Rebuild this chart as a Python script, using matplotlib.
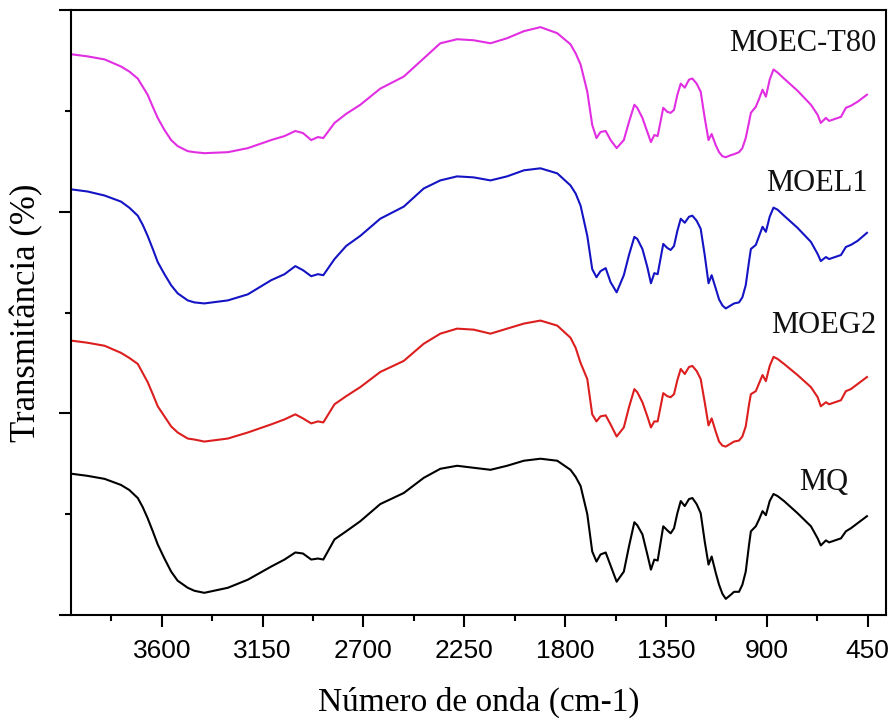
"""FTIR spectra of the MQ sample and its three formulations, stacked with vertical offsets."""

import matplotlib

matplotlib.use("Agg")
import matplotlib.pyplot as plt
from matplotlib.ticker import MultipleLocator, NullFormatter

SERIF = "Liberation Serif"
SANS = "Liberation Sans"

# Wavenumber grid (cm-1), shared by all four spectra
wavenumber = [
    4000, 3931, 3855, 3782, 3745, 3707, 3685, 3663, 3640, 3618,
    3588, 3558, 3529, 3484, 3454, 3410, 3305, 3216, 3112, 3052,
    3004, 2970, 2933, 2903, 2879, 2829, 2777, 2714, 2625, 2520,
    2431, 2357, 2282, 2208, 2133, 2059, 1984, 1910, 1835, 1776,
    1753, 1731, 1701, 1679, 1660, 1642, 1619, 1597, 1570, 1538,
    1515, 1491, 1478, 1455, 1433, 1417, 1402, 1387, 1362, 1344,
    1329, 1314, 1299, 1284, 1266, 1247, 1232, 1213, 1195, 1177,
    1160, 1146, 1128, 1113, 1098, 1083, 1061, 1046, 1024, 1009,
    994, 979, 971, 949, 934, 919, 904, 887, 870, 852,
    823, 763, 703, 673, 659, 636, 622, 569, 547, 525,
    495, 453,
]

# Transmittance (offset, arbitrary units)
moec_t80 = [
    5.56, 5.54, 5.51, 5.44, 5.39, 5.32, 5.24, 5.16, 5.04, 4.93,
    4.81, 4.71, 4.65, 4.60, 4.59, 4.58, 4.59, 4.63, 4.71, 4.75,
    4.80, 4.78, 4.71, 4.74, 4.73, 4.88, 4.97, 5.06, 5.22, 5.34,
    5.52, 5.67, 5.71, 5.70, 5.67, 5.72, 5.79, 5.83, 5.77, 5.66,
    5.57, 5.46, 5.19, 4.86, 4.73, 4.79, 4.80, 4.71, 4.63, 4.71,
    4.89, 5.06, 5.03, 4.93, 4.79, 4.69, 4.76, 4.75, 5.03, 4.99,
    4.98, 5.01, 5.16, 5.27, 5.23, 5.31, 5.32, 5.27, 5.19, 4.93,
    4.71, 4.77, 4.66, 4.59, 4.55, 4.54, 4.56, 4.57, 4.59, 4.63,
    4.73, 4.89, 4.98, 5.04, 5.12, 5.21, 5.14, 5.31, 5.41, 5.38,
    5.32, 5.20, 5.06, 4.96, 4.88, 4.93, 4.90, 4.94, 5.03, 5.05,
    5.09, 5.16,
]
moel1 = [
    4.22, 4.20, 4.16, 4.10, 4.04, 3.96, 3.87, 3.76, 3.63, 3.50,
    3.38, 3.27, 3.19, 3.12, 3.10, 3.09, 3.12, 3.18, 3.32, 3.38,
    3.46, 3.42, 3.36, 3.38, 3.37, 3.53, 3.66, 3.76, 3.93, 4.05,
    4.23, 4.31, 4.35, 4.34, 4.31, 4.35, 4.41, 4.43, 4.38, 4.26,
    4.18, 4.06, 3.76, 3.43, 3.35, 3.41, 3.44, 3.30, 3.20, 3.37,
    3.57, 3.75, 3.73, 3.63, 3.45, 3.29, 3.39, 3.38, 3.68, 3.64,
    3.62, 3.66, 3.81, 3.93, 3.89, 3.95, 3.96, 3.91, 3.83, 3.57,
    3.29, 3.37, 3.24, 3.13, 3.07, 3.04, 3.07, 3.09, 3.10, 3.15,
    3.27, 3.51, 3.63, 3.67, 3.76, 3.85, 3.80, 3.95, 4.04, 4.02,
    3.96, 3.84, 3.70, 3.58, 3.51, 3.55, 3.53, 3.57, 3.65, 3.67,
    3.71, 3.79,
]
moeg2 = [
    2.72, 2.70, 2.67, 2.60, 2.55, 2.49, 2.40, 2.31, 2.19, 2.07,
    1.97, 1.87, 1.81, 1.75, 1.74, 1.72, 1.75, 1.81, 1.89, 1.94,
    1.99, 1.95, 1.90, 1.92, 1.91, 2.09, 2.17, 2.26, 2.41, 2.52,
    2.69, 2.79, 2.84, 2.83, 2.79, 2.84, 2.89, 2.92, 2.87, 2.75,
    2.65, 2.50, 2.34, 1.99, 1.92, 1.97, 1.98, 1.89, 1.77, 1.86,
    2.06, 2.24, 2.21, 2.11, 1.97, 1.86, 1.92, 1.92, 2.20, 2.17,
    2.16, 2.19, 2.33, 2.44, 2.39, 2.46, 2.47, 2.42, 2.34, 2.11,
    1.88, 1.95, 1.82, 1.72, 1.68, 1.67, 1.70, 1.72, 1.73, 1.77,
    1.87, 2.09, 2.19, 2.22, 2.30, 2.38, 2.32, 2.47, 2.56, 2.54,
    2.49, 2.38, 2.26, 2.16, 2.07, 2.11, 2.09, 2.13, 2.22, 2.24,
    2.29, 2.36,
]
mq = [
    1.40, 1.38, 1.35, 1.29, 1.24, 1.16, 1.07, 0.96, 0.83, 0.70,
    0.56, 0.43, 0.34, 0.27, 0.24, 0.22, 0.27, 0.35, 0.48, 0.55,
    0.62, 0.61, 0.55, 0.56, 0.55, 0.75, 0.83, 0.93, 1.10, 1.21,
    1.36, 1.45, 1.48, 1.46, 1.44, 1.48, 1.53, 1.55, 1.53, 1.44,
    1.37, 1.28, 1.00, 0.63, 0.53, 0.60, 0.62, 0.49, 0.33, 0.43,
    0.68, 0.92, 0.89, 0.80, 0.60, 0.45, 0.55, 0.54, 0.88, 0.84,
    0.81, 0.86, 1.01, 1.13, 1.08, 1.15, 1.16, 1.10, 1.01, 0.73,
    0.50, 0.58, 0.42, 0.30, 0.21, 0.16, 0.20, 0.23, 0.23, 0.30,
    0.43, 0.70, 0.83, 0.88, 0.95, 1.03, 0.99, 1.13, 1.20, 1.18,
    1.13, 1.01, 0.88, 0.76, 0.69, 0.74, 0.72, 0.76, 0.83, 0.86,
    0.91, 0.98,
]

series_names = ["MOEC-T80", "MOEL1", "MOEG2", "MQ"]
series_values = [moec_t80, moel1, moeg2, mq]
series_colors = ["#e22ee2", "#1414c4", "#dc1e1e", "#000000"]
# label anchor (wavenumber of right edge, transmittance of centre)
label_pos = [(413, 5.67), (449, 4.28), (413, 2.87), (538, 1.31)]


def build_spectra() -> None:
    fig = plt.figure(figsize=(8.92, 7.22), dpi=100)
    ax = fig.add_axes([71 / 892, 1 - 615 / 722, 815 / 892, 605 / 722])

    for name, values, color in zip(series_names, series_values, series_colors):
        ax.plot(wavenumber, values, color=color, linewidth=1.5, label=name,
                solid_joinstyle="round")

    for name, (x, y) in zip(series_names, label_pos):
        ax.text(x, y, name, ha="right", va="center", fontsize=22, family=SERIF, color="#111111")

    ax.set_xlim(4005, 368)
    ax.set_ylim(0, 6)

    ax.xaxis.set_major_locator(MultipleLocator(450))
    ax.xaxis.set_minor_locator(MultipleLocator(225))
    ax.yaxis.set_major_locator(MultipleLocator(2))
    ax.yaxis.set_minor_locator(MultipleLocator(1))
    ax.yaxis.set_major_formatter(NullFormatter())

    ax.tick_params(which="both", direction="out", width=1.5, top=False, right=False)
    ax.tick_params(which="major", length=8.5)
    ax.tick_params(which="minor", length=4.5)
    ax.tick_params(axis="x", which="major", pad=9, labelsize=19)
    for lbl in ax.get_xticklabels():
        lbl.set_family(SANS)

    for spine in ax.spines.values():
        spine.set_linewidth(1.5)

    ax.set_xlabel("Número de onda (cm-1)", fontsize=24, family=SERIF, labelpad=17)
    ax.set_ylabel("Transmitância (%)", fontsize=25, family=SERIF, labelpad=8)

    fig.savefig("out.png", dpi=100, facecolor="white")
    plt.close(fig)


if __name__ == "__main__":
    build_spectra()
